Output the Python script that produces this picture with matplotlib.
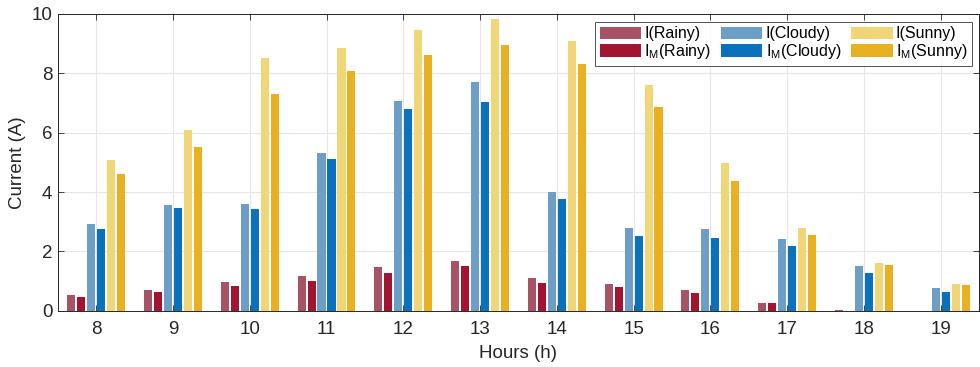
import matplotlib
matplotlib.use("Agg")
import matplotlib.pyplot as plt
import numpy as np

plt.rcParams['font.family'] = ['Liberation Sans', 'DejaVu Sans']

hours = [8, 9, 10, 11, 12, 13, 14, 15, 16, 17, 18, 19]
i_rainy   = [0.55, 0.71, 0.97, 1.18, 1.47, 1.68, 1.09, 0.90, 0.70, 0.25, 0.02, 0.0]
im_rainy  = [0.48, 0.62, 0.83, 1.01, 1.28, 1.50, 0.93, 0.82, 0.61, 0.25, 0.01, 0.0]
i_cloudy  = [2.93, 3.57, 3.59, 5.30, 7.06, 7.72, 4.00, 2.78, 2.74, 2.43, 1.50, 0.77]
im_cloudy = [2.77, 3.48, 3.43, 5.13, 6.79, 7.03, 3.78, 2.51, 2.47, 2.18, 1.28, 0.62]
i_sunny   = [5.08, 6.10, 8.51, 8.85, 9.47, 9.84, 9.09, 7.62, 4.98, 2.78, 1.62, 0.92]
im_sunny  = [4.60, 5.51, 7.32, 8.08, 8.61, 8.95, 8.32, 6.85, 4.38, 2.57, 1.54, 0.87]

series = [
    (i_rainy, "I(Rainy)", "#a85266"),
    (im_rainy, "I$_{\\mathregular{M}}$(Rainy)", "#a2142f"),
    (i_cloudy, "I(Cloudy)", "#6d9ec8"),
    (im_cloudy, "I$_{\\mathregular{M}}$(Cloudy)", "#0a72bd"),
    (i_sunny, "I(Sunny)", "#f1d677"),
    (im_sunny, "I$_{\\mathregular{M}}$(Sunny)", "#e9b022"),
]

fig = plt.figure(figsize=(9.8, 3.67), dpi=100)
ax = fig.add_axes([0.059, 0.153, 0.94, 0.809])

x = np.arange(len(hours))
pitch = 0.13
width = 0.105
for k, (vals, lab, col) in enumerate(series):
    ax.bar(x + (k - 2.5) * pitch, vals, width=width, color=col, label=lab, zorder=3)

ax.set_xlim(-0.5, len(hours) - 0.5)
ax.set_ylim(0, 10)
ax.set_xticks(x)
ax.set_xticklabels([str(h) for h in hours])
ax.set_yticks([0, 2, 4, 6, 8, 10])
ax.grid(True, color="#e6e6e6", linewidth=0.8, zorder=0)
ax.tick_params(axis='both', labelsize=13.5, colors="#262626", direction='in', length=4,
               top=True, right=True, width=0.6)
ax.tick_params(axis='x', pad=7)
ax.tick_params(axis='y', pad=4)
for s in ax.spines.values():
    s.set_color("#262626")
    s.set_linewidth(0.7)
ax.set_xlabel("Hours (h)", fontsize=13.5, color="#262626", labelpad=5)
ax.set_ylabel("Current (A)", fontsize=13.5, color="#262626", labelpad=4)

leg = ax.legend(ncol=3, loc="upper right", bbox_to_anchor=(0.9975, 0.99), fontsize=11.5,
                frameon=True, fancybox=False, edgecolor="#262626",
                handlelength=2.6, handleheight=0.85, columnspacing=0.6, handletextpad=0.2,
                labelspacing=0.05, borderpad=0.3, borderaxespad=0.3)
leg.get_frame().set_linewidth(0.7)

fig.savefig("out.png", dpi=100)
